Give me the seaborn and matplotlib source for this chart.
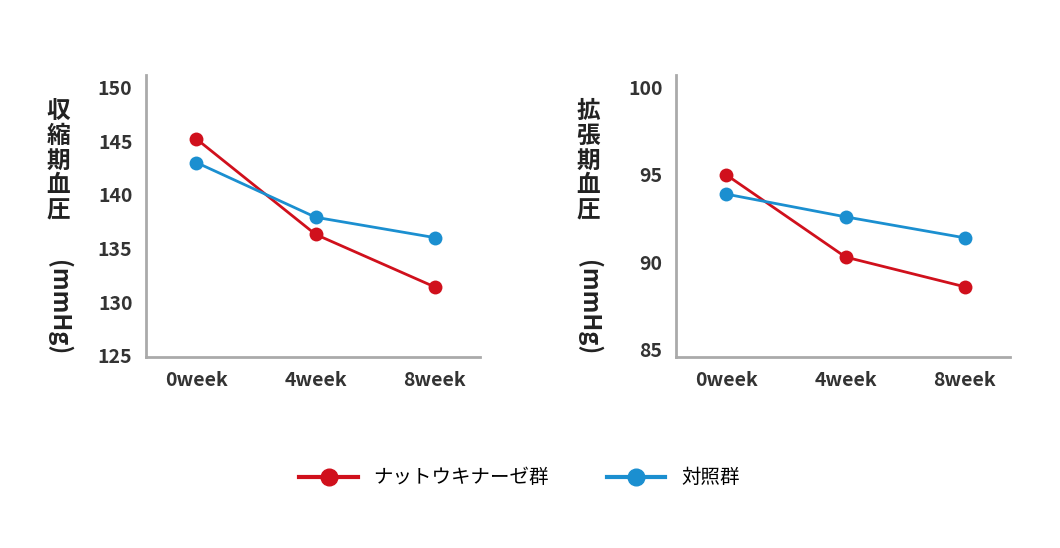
import matplotlib
matplotlib.use("Agg")
import matplotlib.pyplot as plt
import pandas as pd
import seaborn as sns

plt.rcParams["font.family"] = "Noto Sans CJK JP"

weeks = ["0week", "4week", "8week"]
groups = ["ナットウキナーゼ群", "対照群"]
sys_natto = [145.2, 136.3, 131.4]
sys_ctrl = [143.0, 137.9, 136.0]
dia_natto = [95.0, 90.3, 88.6]
dia_ctrl = [93.9, 92.6, 91.4]

palette = {groups[0]: "#d0101c", groups[1]: "#1b8fd0"}

def make_df(a, b):
    return pd.DataFrame({
        "week": weeks * 2,
        "x": [0, 1, 2] * 2,
        "value": a + b,
        "group": [groups[0]] * 3 + [groups[1]] * 3,
    })

fig = plt.figure(figsize=(10.6, 5.48), dpi=100)
ax1 = fig.add_axes([0.138, 0.349, 0.315, 0.515])
ax2 = fig.add_axes([0.638, 0.349, 0.315, 0.515])

panels = [
    (ax1, make_df(sys_natto, sys_ctrl), (124.9, 151.2), [125, 130, 135, 140, 145, 150], "収\n縮\n期\n血\n圧", 0.055),
    (ax2, make_df(dia_natto, dia_ctrl), (84.6, 100.74), [85, 90, 95, 100], "拡\n張\n期\n血\n圧", 0.555),
]
for ax, df, ylim, yt, lab, lx in panels:
    sns.lineplot(data=df, x="x", y="value", hue="group", palette=palette,
                 marker="o", markersize=10, markeredgewidth=0, linewidth=2,
                 ax=ax, legend=False)
    ax.set_ylim(*ylim)
    ax.set_xlim(-0.42, 2.38)
    ax.set_yticks(yt)
    ax.set_xticks([0, 1, 2])
    ax.set_xticklabels(weeks)
    ax.set_xlabel("")
    ax.set_ylabel("")
    for s in ["top", "right"]:
        ax.spines[s].set_visible(False)
    for s in ["left", "bottom"]:
        ax.spines[s].set_color("#aaaaaa")
        ax.spines[s].set_linewidth(2)
    ax.tick_params(length=0, labelsize=14, colors="#333333", pad=10)
    for t in ax.get_yticklabels() + ax.get_xticklabels():
        t.set_fontweight("bold")
    fig.text(lx, 0.82, lab, fontsize=17, fontweight="bold", color="#222222",
             ha="center", va="top", linespacing=1.05)
    fig.text(lx, 0.525, "(mmHg)", fontsize=17, fontweight="bold", color="#222222",
             ha="center", va="top", rotation=270)

handles = [plt.Line2D([], [], color=palette[g], marker="o", markersize=12, linewidth=3) for g in groups]
fig.legend(handles, groups, loc="center", bbox_to_anchor=(0.49, 0.128), ncol=2,
           frameon=False, fontsize=14, handlelength=3, columnspacing=3)

plt.savefig("out.png", dpi=100)
